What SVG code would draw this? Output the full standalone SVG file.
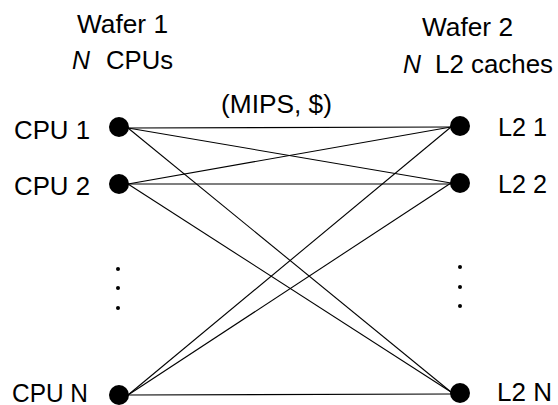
<svg xmlns="http://www.w3.org/2000/svg" width="558" height="405" viewBox="0 0 558 405">
<style>
text{font-family:"Liberation Sans",Arial,sans-serif;font-size:25px;fill:#000}
.it{font-style:italic}
.dot{fill:#000}
.sd{fill:#000}
#connectors line{stroke:#000;stroke-width:1.1;fill:none}
</style>
<rect width="558" height="405" fill="#fff"/>
<g id="headers">
<text x="77" y="33" textLength="91" lengthAdjust="spacingAndGlyphs">Wafer 1</text>
<text x="72" y="69" class="it" textLength="18" lengthAdjust="spacingAndGlyphs">N</text>
<text x="106" y="69" textLength="67" lengthAdjust="spacingAndGlyphs">CPUs</text>
<text x="422" y="36" textLength="91" lengthAdjust="spacingAndGlyphs">Wafer 2</text>
<text x="403" y="73" class="it" textLength="18" lengthAdjust="spacingAndGlyphs">N</text>
<text x="435" y="73" textLength="118" lengthAdjust="spacingAndGlyphs">L2 caches</text>
<text x="221" y="113" textLength="111" lengthAdjust="spacingAndGlyphs">(MIPS, $)</text>
</g>
<g id="connectors">
<line x1="128" y1="128" x2="451" y2="127"/>
<line x1="128" y1="128" x2="451" y2="183"/>
<line x1="128" y1="128" x2="451" y2="392"/>
<line x1="128" y1="184" x2="451" y2="127"/>
<line x1="128" y1="184" x2="451" y2="184"/>
<line x1="128" y1="184" x2="451" y2="392"/>
<line x1="128" y1="395" x2="451" y2="127"/>
<line x1="128" y1="395" x2="451" y2="183"/>
<line x1="128" y1="395" x2="451" y2="394"/>
</g>
<g id="cpu1"><circle class="dot" cx="119" cy="127" r="10"/><text x="14" y="139" textLength="76" lengthAdjust="spacingAndGlyphs">CPU 1</text></g>
<g id="cpu2"><circle class="dot" cx="119" cy="184" r="10"/><text x="14" y="195" textLength="76" lengthAdjust="spacingAndGlyphs">CPU 2</text></g>
<g id="cpuN"><circle class="dot" cx="119" cy="395" r="10"/><text x="12" y="402" textLength="76" lengthAdjust="spacingAndGlyphs">CPU N</text></g>
<g id="l21"><circle class="dot" cx="460" cy="126" r="10"/><text x="498" y="136" textLength="49" lengthAdjust="spacingAndGlyphs">L2 1</text></g>
<g id="l22"><circle class="dot" cx="460" cy="183" r="10"/><text x="498" y="193" textLength="49" lengthAdjust="spacingAndGlyphs">L2 2</text></g>
<g id="l2N"><circle class="dot" cx="460" cy="393" r="10"/><text x="497" y="401" textLength="55" lengthAdjust="spacingAndGlyphs">L2 N</text></g>
<g id="ellipsis-left"><circle class="sd" cx="118" cy="269" r="2"/><circle class="sd" cx="118" cy="288" r="2"/><circle class="sd" cx="118" cy="308" r="2"/></g>
<g id="ellipsis-right"><circle class="sd" cx="460" cy="267" r="2"/><circle class="sd" cx="460" cy="287" r="2"/><circle class="sd" cx="460" cy="306" r="2"/></g>
</svg>
